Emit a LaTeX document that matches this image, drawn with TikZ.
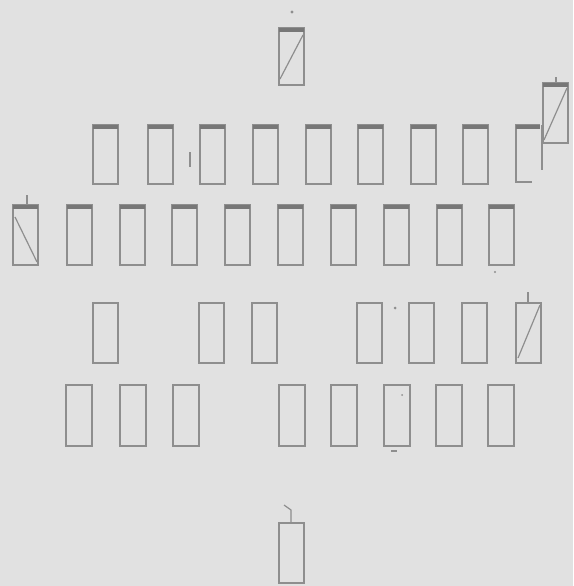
\documentclass[tikz,border=0pt]{standalone}
\begin{document}
\definecolor{bgc}{HTML}{E1E1E1}
\definecolor{lnc}{HTML}{8E8E8E}
\definecolor{barc}{HTML}{777777}
\begin{tikzpicture}[x=1pt,y=-1pt,
  box/.style={draw=lnc, line width=1.4pt},
  topbar/.style={draw=barc, line width=4.5pt},
  stroke/.style={draw=lnc, line width=1.2pt},
  dotm/.style={fill=lnc}]
\fill[bgc] (0,0) rectangle (573,586);
\useasboundingbox (0,0) rectangle (573,586);
% top box
\draw[box] (279,28) rectangle (304,85);
\draw[topbar] (279,30) -- (304,30);
\draw[stroke] (280,79) -- (303,35);
\fill[dotm] (292,12) circle (1.6);
% row 1
\foreach \x in {93,148,200,253,306,358,411,463}{
  \draw[box] (\x,125) rectangle ++(25,59);
  \draw[topbar] (\x,127) -- ++(25,0);
}
\draw[box] (540,125) -- (516,125) -- (516,182) -- (532,182);
\draw[topbar] (516,127) -- (540,127);
\draw[stroke] (190,152) -- (190,167);
% tall right box
\draw[box] (543,83) rectangle (568,143);
\draw[topbar] (543,85) -- (568,85);
\draw[box] (542,125) -- (542,170);
\draw[stroke] (544,140) -- (567,88);
\draw[stroke] (556,77) -- (556,83);
% row 2
\foreach \x in {13,67,120,172,225,278,331,384,437,489}{
  \draw[box] (\x,205) rectangle ++(25,60);
  \draw[topbar] (\x,207) -- ++(25,0);
}
\draw[stroke] (15,217) -- (37,262);
\draw[stroke] (27,195) -- (27,205);
\fill[dotm] (495,272) circle (1.2);
% row 3
\foreach \x in {93,199,252,357,409,462,516}{
  \draw[box] (\x,303) rectangle ++(25,60);
}
\draw[stroke] (518,358) -- (540,305);
\draw[stroke] (528,292) -- (528,303);
\fill[dotm] (395,308) circle (1.5);
% row 4
\foreach \x in {66,120,173,279,331,384,436,488}{
  \draw[box] (\x,385) rectangle ++(26,61);
}
\draw[stroke] (391,451) -- (397,451);
\fill[dotm] (402,395) circle (1);
% bottom box
\draw[box] (279,523) rectangle (304,583);
\draw[stroke] (284,505) -- (291,510) -- (291,523);
\end{tikzpicture}
\end{document}
